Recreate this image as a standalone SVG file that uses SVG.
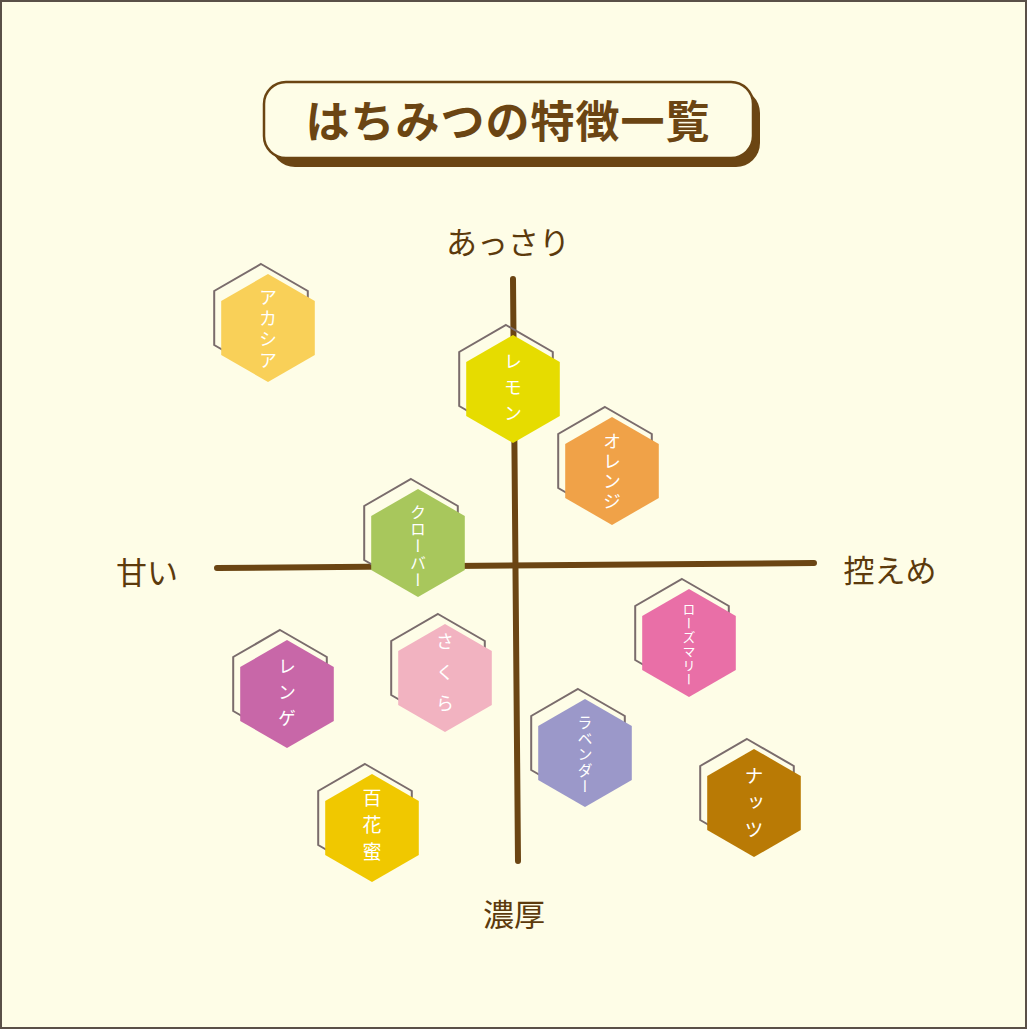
<svg xmlns="http://www.w3.org/2000/svg" width="1027" height="1029" viewBox="0 0 1027 1029">
<defs>
<style>
.bg{fill:#FEFDE7;stroke:#5a5048;stroke-width:2}
.axis{stroke:#6B4513;stroke-width:6;stroke-linecap:round;fill:none}
.lbl{font-family:"Noto Sans CJK JP","Noto Sans CJK SC",sans-serif;font-size:31px;fill:#5C3A0C;text-anchor:middle;dominant-baseline:central}
.title{font-family:"Noto Sans CJK JP","Noto Sans CJK SC",sans-serif;font-size:44px;font-weight:700;fill:#6B4513;text-anchor:middle}
.ol{fill:none;stroke:#7a6c6c;stroke-width:2}
.ht{font-family:"Noto Sans CJK JP","Noto Sans CJK SC",sans-serif;fill:#ffffff;writing-mode:vertical-rl;text-anchor:middle;dominant-baseline:central}
</style>
<polygon id="hex" points="0,-54 46.8,-27 46.8,27 0,54 -46.8,27 -46.8,-27"/>
</defs>
<rect class="bg" x="1" y="1" width="1025" height="1027"/>
<g id="title">
<rect x="271" y="89" width="489" height="78" rx="24" fill="#6B4513"/>
<rect x="264" y="82" width="489" height="76" rx="22" fill="#FEFDE7" stroke="#6B4513" stroke-width="2.5"/>
<text class="title" x="508" y="138" letter-spacing="1">はちみつの特徴一覧</text>
</g>
<g id="connectors">
<line class="axis" x1="513" y1="279" x2="518" y2="861"/>
<line class="axis" x1="217" y1="568" x2="814" y2="563"/>
</g>
<g id="axis-labels">
<text class="lbl" x="508" y="240">あっさり</text>
<text class="lbl" x="147" y="570">甘い</text>
<text class="lbl" x="890" y="568">控えめ</text>
<text class="lbl" x="514" y="912">濃厚</text>
</g>
<g id="acacia">
<use href="#hex" class="ol" x="261" y="318"/>
<use href="#hex" x="268" y="328" fill="#F9D058"/>
<text class="ht" x="268" y="330" font-size="18" letter-spacing="3">アカシア</text>
</g>
<g id="lemon">
<use href="#hex" class="ol" x="506" y="379"/>
<use href="#hex" x="513" y="389" fill="#E6DC00"/>
<text class="ht" x="513" y="391" font-size="18" letter-spacing="8">レモン</text>
</g>
<g id="orange">
<use href="#hex" class="ol" x="605" y="461"/>
<use href="#hex" x="612" y="471" fill="#F0A248"/>
<text class="ht" x="612" y="472" font-size="18" letter-spacing="2">オレンジ</text>
</g>
<g id="clover">
<use href="#hex" class="ol" x="411" y="533"/>
<use href="#hex" x="418" y="543" fill="#A8C75C"/>
<text class="ht" x="418" y="546" font-size="16" letter-spacing="1">クローバー</text>
</g>
<g id="rosemary">
<use href="#hex" class="ol" x="682" y="633"/>
<use href="#hex" x="689" y="643" fill="#E96FA7"/>
<text class="ht" x="689" y="645" font-size="13" letter-spacing="1">ローズマリー</text>
</g>
<g id="sakura">
<use href="#hex" class="ol" x="438" y="668"/>
<use href="#hex" x="445" y="678" fill="#F2B3C1"/>
<text class="ht" x="445" y="679" font-size="18" letter-spacing="13">さくら</text>
</g>
<g id="renge">
<use href="#hex" class="ol" x="280" y="684"/>
<use href="#hex" x="287" y="694" fill="#C867A8"/>
<text class="ht" x="287" y="696" font-size="18" letter-spacing="8">レンゲ</text>
</g>
<g id="lavender">
<use href="#hex" class="ol" x="578" y="743"/>
<use href="#hex" x="585" y="753" fill="#9B98C9"/>
<text class="ht" x="585" y="755" font-size="15" letter-spacing="1">ラベンダー</text>
</g>
<g id="nuts">
<use href="#hex" class="ol" x="747" y="793"/>
<use href="#hex" x="754" y="803" fill="#B97A05"/>
<text class="ht" x="754" y="807" font-size="19" letter-spacing="8">ナッツ</text>
</g>
<g id="hyakkamitsu">
<use href="#hex" class="ol" x="365" y="818"/>
<use href="#hex" x="372" y="828" fill="#F0C800"/>
<text class="ht" x="372" y="829" font-size="19" letter-spacing="8">百花蜜</text>
</g>
</svg>
